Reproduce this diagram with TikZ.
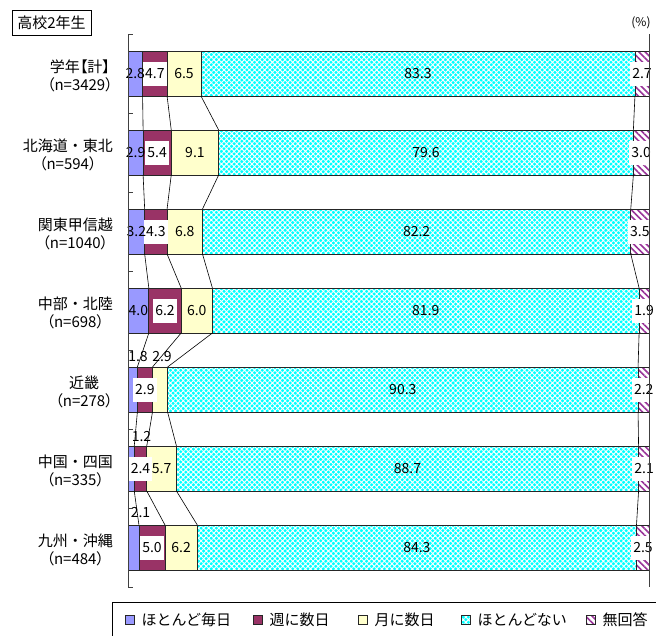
\documentclass[tikz,border=0pt]{standalone}
\usepackage{fontspec}
\setmainfont{Noto Sans CJK JP}
\newfontfamily\pjp[RawFeature=+palt]{Noto Sans CJK JP}
\usetikzlibrary{positioning}
\usetikzlibrary{patterns.meta}
\definecolor{cMai}{HTML}{9999FF}
\definecolor{cShu}{HTML}{993366}
\definecolor{cTsu}{HTML}{FFFFCC}
\definecolor{cNashi}{HTML}{00FFFF}
\definecolor{cMu}{HTML}{993399}

\begin{document}
\begin{tikzpicture}[x=1pt, y=-1pt,
    seg/.style={rectangle, draw=black!85, line width=0.7pt, minimum height=45pt, inner sep=0pt, outer sep=0pt, anchor=west},
    mai/.style={fill=cMai},
    shu/.style={fill=cShu},
    tsu/.style={fill=cTsu},
    nashi/.style={preaction={fill=cNashi}, pattern={Hatch[angle=45, distance=3.6pt, line width=0.9pt]}, pattern color=white},
    mu/.style={preaction={fill=white}, pattern={Lines[angle=-45, distance=4.5pt, line width=1.6pt]}, pattern color=cMu},
    num/.style={font=\fontsize{14}{16}\selectfont, inner sep=1pt},
    wnum/.style={num, fill=white, inner xsep=2pt, minimum height=24pt},
    cat/.style={align=center, font=\fontsize{15}{18.5}\selectfont, inner sep=1pt, yshift=-2.5pt},
    legkey/.style={rectangle, draw=black!85, line width=0.7pt, minimum size=9pt, inner sep=0pt},
    keytxt/.style={font=\fontsize{15}{18}\selectfont, inner sep=0pt},
    link/.style={black, line width=0.6pt},
    axisline/.style={black!75, line width=0.8pt}]
    \useasboundingbox (0,0) rectangle (656,635);
    % title
    \node[draw=black, line width=0.8pt, minimum width=79pt, minimum height=25pt, inner sep=0pt, font=\fontsize{15}{18}\selectfont] (ttl) at (51.5,22.5) {高校2年生};
    \node[font=\fontsize{12}{14}\selectfont, inner sep=1pt] (pct) at (641,23) {(\%)};
    % bars
    \foreach \r/\a/\b/\c/\d/\e in {1/2.8/4.7/6.5/83.3/2.7, 2/2.9/5.4/9.1/79.6/3.0, 3/3.2/4.3/6.8/82.2/3.5, 4/4.0/6.2/6.0/81.9/1.9, 5/1.8/2.9/2.9/90.3/2.2, 6/1.2/2.4/5.7/88.7/2.1, 7/2.1/5.0/6.2/84.3/2.5} {
        \node[seg, mai, minimum width=\a*5.21pt] (b\r-1) at (128,{73.5+79*(\r-1)}) {};
        \node[seg, shu, minimum width=\b*5.21pt, right=0pt of b\r-1] (b\r-2) {};
        \node[seg, tsu, minimum width=\c*5.21pt, right=0pt of b\r-2] (b\r-3) {};
        \node[seg, nashi, minimum width=\d*5.21pt, right=0pt of b\r-3] (b\r-4) {};
        \node[seg, mu, minimum width=\e*5.21pt, right=0pt of b\r-4] (b\r-5) {};
        \node[wnum] (l\r-2) at (b\r-2) {\b};
        \node[num] (l\r-4) at (b\r-4) {\d};
        \node[wnum] (l\r-5) at (b\r-5) {\e};
    }
    % categories
    \foreach \r/\name/\n in {1/{学年{\pjp【計】}}/3429, 2/北海道・東北/594, 3/関東甲信越/1040, 4/中部・北陸/698, 5/近畿/278, 6/中国・四国/335, 7/九州・沖縄/484}
        \node[cat, left=14pt of b\r-1] (c\r) {\name\\{\pjp（n=\n）}};
    % small values
    \foreach \r/\v in {1/2.8, 2/2.9, 3/3.2, 4/4.0}
        \node[num] (l\r-1) at (b\r-1) {\v};
    \foreach \r/\v in {1/6.5, 2/9.1, 3/6.8, 4/6.0, 6/5.7, 7/6.2}
        \node[num] (l\r-3) at (b\r-3) {\v};
    \node[num] (l5-1) at (138,357) {1.8};
    \node[num] (l5-3) at (162,357) {2.9};
    \node[num] (l6-1) at (141.5,437) {1.2};
    \node[num] (l7-1) at (140.5,513) {2.1};
    % lines
    \foreach \r [evaluate=\r as \s using int(\r+1)] in {1,...,6}
        \foreach \k in {1,...,4}
            \draw[link] (b\r-\k.south east) -- (b\s-\k.north east);
    % axes
    \draw[axisline] (128,34) -- (128,587);
    \foreach \t in {0,...,7}
        \draw[axisline] (128,{34+79*\t}) -- (133,{34+79*\t});
    \draw[axisline] (649,34) -- (649,587);
    % legend
    \draw[black, line width=0.8pt] (112,640) |- (660,602);
    \node[legkey, mai] (k1) at (130,620) {};
    \node[keytxt, right=6.5pt of k1] (t1) {ほとんど毎日};
    \node[legkey, shu] (k2) at (258,620) {};
    \node[keytxt, right=6.5pt of k2] (t2) {週に数日};
    \node[legkey, tsu] (k3) at (363,620) {};
    \node[keytxt, right=6.5pt of k3] (t3) {月に数日};
    \node[legkey, nashi] (k4) at (466,620) {};
    \node[keytxt, right=6.5pt of k4] (t4) {ほとんどない};
    \node[legkey, mu] (k5) at (591,620) {};
    \node[keytxt, right=6.5pt of k5] (t5) {無回答};
\end{tikzpicture}
\end{document}
